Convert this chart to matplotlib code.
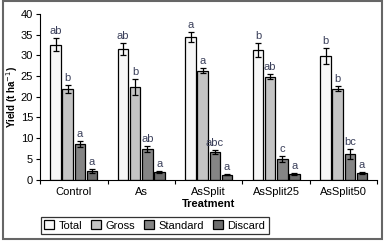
import numpy as np
import matplotlib.pyplot as plt
from matplotlib.patches import Rectangle

plt.rcParams['font.family'] = ['Liberation Sans Narrow', 'Liberation Sans', 'DejaVu Sans']

treatments = ['Control', 'As', 'AsSplit', 'AsSplit25', 'AsSplit50']
series = ['Total', 'Gross', 'Standard', 'Discard']
total = [32.6, 31.6, 34.4, 31.3, 29.8]
gross = [21.9, 22.4, 26.3, 24.9, 22.0]
standard = [8.6, 7.4, 6.7, 5.0, 6.1]
discard = [2.1, 1.8, 1.2, 1.3, 1.6]
total_err = [1.6, 1.4, 1.2, 1.6, 1.9]
gross_err = [1.0, 1.9, 0.6, 0.6, 0.5]
standard_err = [0.8, 0.7, 0.4, 0.8, 1.2]
discard_err = [0.4, 0.2, 0.1, 0.3, 0.3]
total_sig = ['ab', 'ab', 'a', 'b', 'b']
gross_sig = ['b', 'b', 'a', 'ab', 'b']
standard_sig = ['a', 'ab', 'abc', 'c', 'bc']
discard_sig = ['a', 'a', 'a', 'a', 'a']

values = [total, gross, standard, discard]
errors = [total_err, gross_err, standard_err, discard_err]
sigs = [total_sig, gross_sig, standard_sig, discard_sig]
colors = ['#f7f7f7', '#c4c4c4', '#858585', '#6e6e6e']

fig = plt.figure(figsize=(3.87, 2.46), dpi=100)
ax = fig.add_axes([0.1034, 0.270, 0.872, 0.673])

x = np.arange(len(treatments))
w = 0.155
for i, name in enumerate(series):
    pos = x + (i - 1.5) * 0.18
    ax.bar(pos, values[i], w, color=colors[i], edgecolor='black', linewidth=0.9,
           label=name, zorder=2)
    ax.errorbar(pos, values[i], yerr=errors[i], fmt='none', ecolor='black',
                elinewidth=0.9, capsize=2, capthick=0.9, zorder=3)
    for p, v, e, s in zip(pos, values[i], errors[i], sigs[i]):
        ax.text(p, v + e + 0.5, s, ha='center', va='bottom', fontsize=8, color='#3a3f5a')

ax.set_xlim(-0.5, 4.5)
ax.set_ylim(0, 40)
ax.set_yticks(range(0, 41, 5))
ax.set_xticks(np.arange(-0.5, 5, 1))
ax.set_xticklabels([])
ax.set_xticks(x, minor=True)
ax.set_xticklabels(treatments, minor=True)
ax.tick_params(axis='x', which='minor', length=0, pad=5, labelsize=8)
ax.tick_params(axis='x', which='major', direction='out', length=3)
ax.tick_params(axis='y', direction='out', length=3, labelsize=8, pad=2)
ax.spines['top'].set_visible(False)
ax.spines['right'].set_visible(False)
ax.set_ylabel('Yield (t ha$^{-1}$)', fontsize=7, fontweight='bold')
ax.yaxis.set_label_coords(-0.06, 0.5)
ax.set_xlabel('Treatment', fontsize=8, fontweight='bold', labelpad=2)

leg = ax.legend(ncol=4, loc='lower left', bbox_to_anchor=(0.106, 0.049),
                bbox_transform=fig.transFigure, fontsize=8, frameon=True,
                fancybox=False, edgecolor='black', handlelength=0.9,
                handleheight=0.9, handletextpad=0.4, columnspacing=0.8,
                borderpad=0.3, borderaxespad=0)
leg.get_frame().set_linewidth(0.9)

fig.patches.append(Rectangle((0.0065, 0.028), 0.9815, 0.966, transform=fig.transFigure,
                             fill=False, edgecolor='#666666', linewidth=1.5))

fig.savefig('out.png', dpi=100)
